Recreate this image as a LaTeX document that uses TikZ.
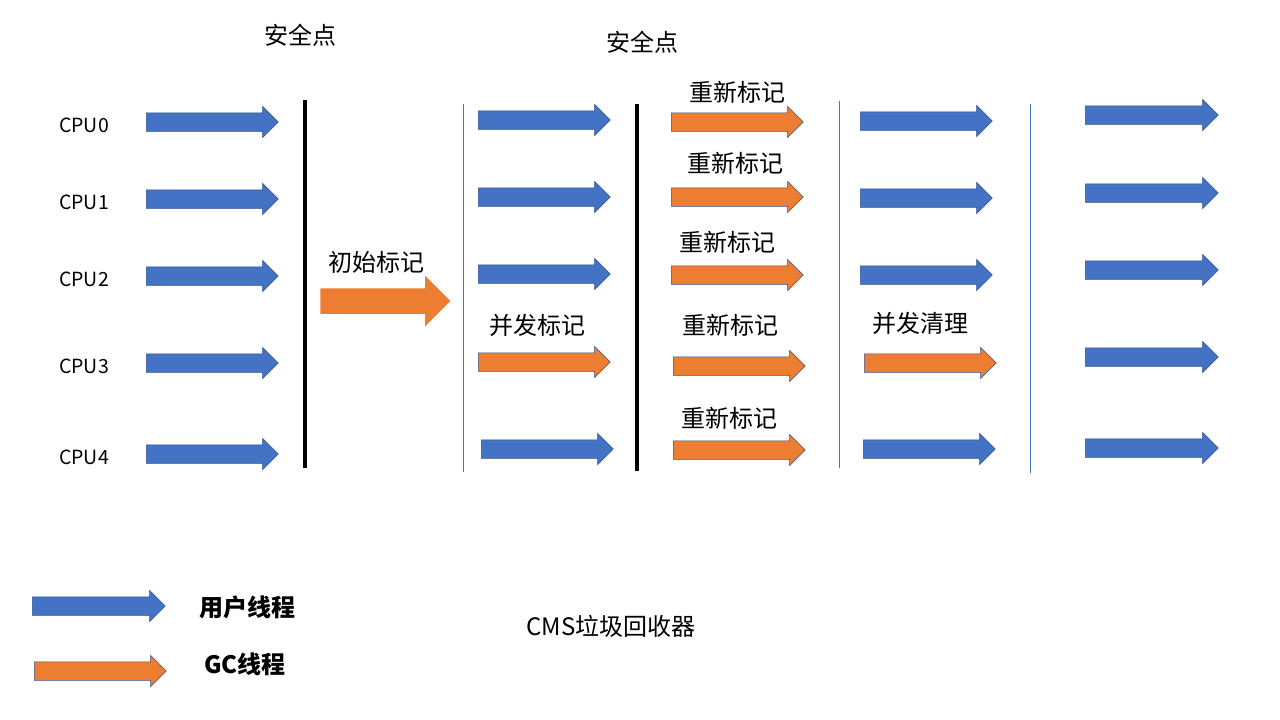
\documentclass[tikz,border=0pt]{standalone}
\usepackage{fontspec}
\setmainfont{Noto Sans CJK SC}
\usetikzlibrary{shapes.arrows}
\definecolor{userblue}{RGB}{68,114,196}
\definecolor{gcorange}{RGB}{237,125,49}
\definecolor{edgeblue}{RGB}{47,82,143}

\begin{document}
\begin{tikzpicture}[x=1pt,y=-1pt]
    \tikzstyle{thread}=[single arrow,draw=edgeblue,line width=0.5pt,inner sep=0pt,text height=18pt,text depth=0pt,single arrow head extend=6.5pt,minimum height=132pt,anchor=tail]
    \tikzstyle{user}=[thread,fill=userblue]
    \tikzstyle{gc}=[thread,fill=gcorange]
    \tikzstyle{phase}=[inner sep=0pt,font=\fontsize{24}{28}\selectfont]
    \tikzstyle{cpu}=[inner sep=0pt,font=\fontsize{19.5}{24}\selectfont]
    \tikzstyle{safeline}=[line width=4pt,black]
    \tikzstyle{stageline}=[line width=1pt,userblue]
    \useasboundingbox (0,0) rectangle (1280,720);

    \node (safe1)[phase] at (300,35) {安全点};
    \node (safe2)[phase] at (642,42) {安全点};

    \foreach \y [count=\i from 0] in {122,199,276,363,454} {
        \node (cpu\i)[cpu] at (84,\y+3) {CPU\i};
        \node (run\i)[user] at (146,\y) {};
    }
    \draw[safeline] (305,100) -- (305,468);

    \node (initmark)[phase] at (376,262) {初始标记};
    \node (init)[gc,draw=none,text height=25pt,single arrow head extend=12.5pt,minimum height=130pt] at (320,301) {};
    \draw[stageline] (463,104) -- (463,472);

    \node (concmark)[phase] at (537,325) {并发标记};
    \foreach \y/\x/\s [count=\i from 0] in {120/478/user,197/478/user,274/478/user,362/478/gc,449/481/user} {
        \node (mark\i)[\s] at (\x,\y) {};
    }
    \draw[safeline] (637,104) -- (637,471);

    \foreach \y/\x/\ty/\tx [count=\i from 0] in {122/671/92/737,197/671/163/735,275/671/242/727,366/673/325/730,450/673/418/729} {
        \node (remarktext\i)[phase] at (\tx,\ty) {重新标记};
        \node (remark\i)[gc] at (\x,\y) {};
    }
    \draw[stageline] (839,101) -- (839,468);

    \node (sweeptext)[phase] at (920,323) {并发清理};
    \foreach \y/\x/\s [count=\i from 0] in {121/860/user,198/860/user,275/860/user,363/864/gc,449/863/user} {
        \node (sweep\i)[\s] at (\x,\y) {};
    }
    \draw[stageline] (1030,104) -- (1030,473);

    \foreach \y [count=\i from 0] in {115,193,270,357,448} {
        \node (resume\i)[user,minimum height=133pt] at (1085,\y) {};
    }

    \node (keyuser)[user,minimum height=133pt] at (32,606) {};
    \node (keyusertext)[phase,font=\fontsize{24}{28}\selectfont\bfseries] at (247,607) {用户线程};
    \node (keygc)[gc] at (34,671) {};
    \node (keygctext)[phase,font=\fontsize{24}{28}\selectfont\bfseries] at (245,664) {GC线程};

    \node (title)[phase] at (611,626) {CMS垃圾回收器};
\end{tikzpicture}
\end{document}
